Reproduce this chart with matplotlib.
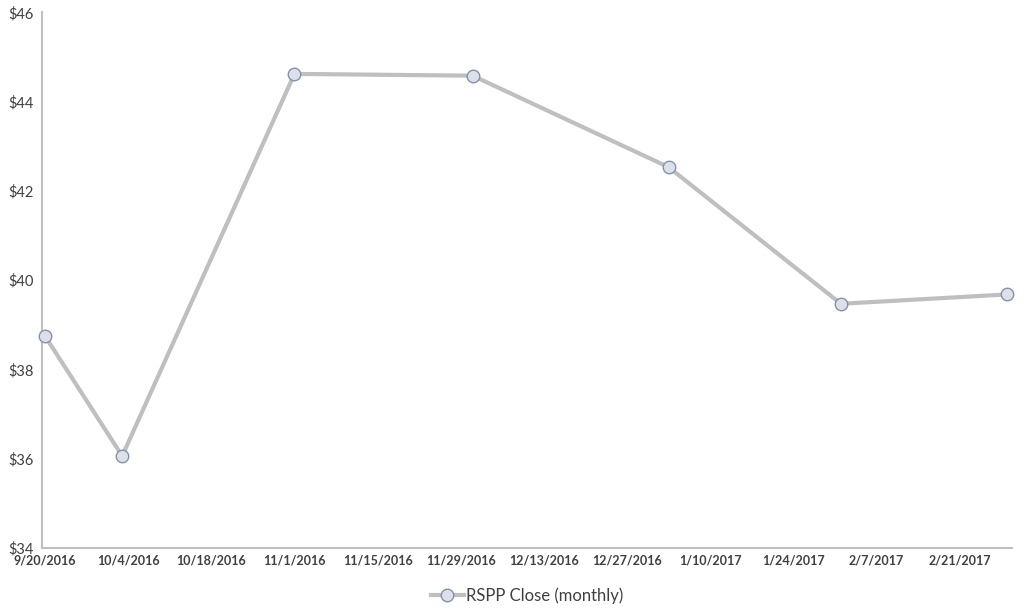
import pandas as pd
import matplotlib.pyplot as plt
from matplotlib.ticker import FuncFormatter

plt.rcParams['font.family'] = ['Lato', 'DejaVu Sans']

# monthly closes
dates = ["2016-09-20", "2016-10-03", "2016-11-01", "2016-12-01",
         "2017-01-03", "2017-02-01", "2017-03-01"]
closes = [38.75, 36.06, 44.62, 44.58, 42.53, 39.47, 39.68]

tick_dates = pd.date_range("2016-09-20", "2017-02-21", freq="14D")
x_start, x_end = "2016-09-19 12:00", "2017-03-01 18:00"
y_ticks = [34, 36, 38, 40, 42, 44, 46]

def plot_closes():
    fig = plt.figure(figsize=(10.24, 6.15), dpi=100)
    ax = fig.add_axes([0.041, 0.109, 0.947, 0.871])

    ax.plot(pd.to_datetime(dates), closes, color="#bfbfbf", linewidth=3,
            marker="o", markersize=9, markerfacecolor="#dde1e7",
            markeredgecolor="#8093ae", markeredgewidth=1,
            label="RSPP Close (monthly)", clip_on=False, zorder=3)

    ax.set_xlim(pd.Timestamp(x_start), pd.Timestamp(x_end))
    ax.set_ylim(34, 46)
    ax.set_yticks(y_ticks)
    ax.yaxis.set_major_formatter(FuncFormatter(lambda v, p: f"${v:.0f}"))
    ax.set_xticks(tick_dates)
    ax.set_xticklabels([f"{d.month}/{d.day}/{d.year}" for d in tick_dates])

    for s in ["top", "right"]:
        ax.spines[s].set_visible(False)
    for s in ["left", "bottom"]:
        ax.spines[s].set_color("#bfbfbf")
        ax.spines[s].set_linewidth(1.5)

    ax.tick_params(axis="x", length=0, pad=5, labelsize=9, labelcolor="#404040")
    ax.tick_params(axis="y", length=0, pad=6, labelsize=10.5, labelcolor="#404040")
    for lbl in ax.get_xticklabels():
        lbl.set_fontweight("bold")

    ax.legend(loc="upper center", bbox_to_anchor=(0.5, -0.045),
              frameon=False, fontsize=12, handlelength=2.0,
              handletextpad=0.1, labelcolor="#404040")

    fig.savefig("out.png", dpi=100)

if __name__ == "__main__":
    plot_closes()
